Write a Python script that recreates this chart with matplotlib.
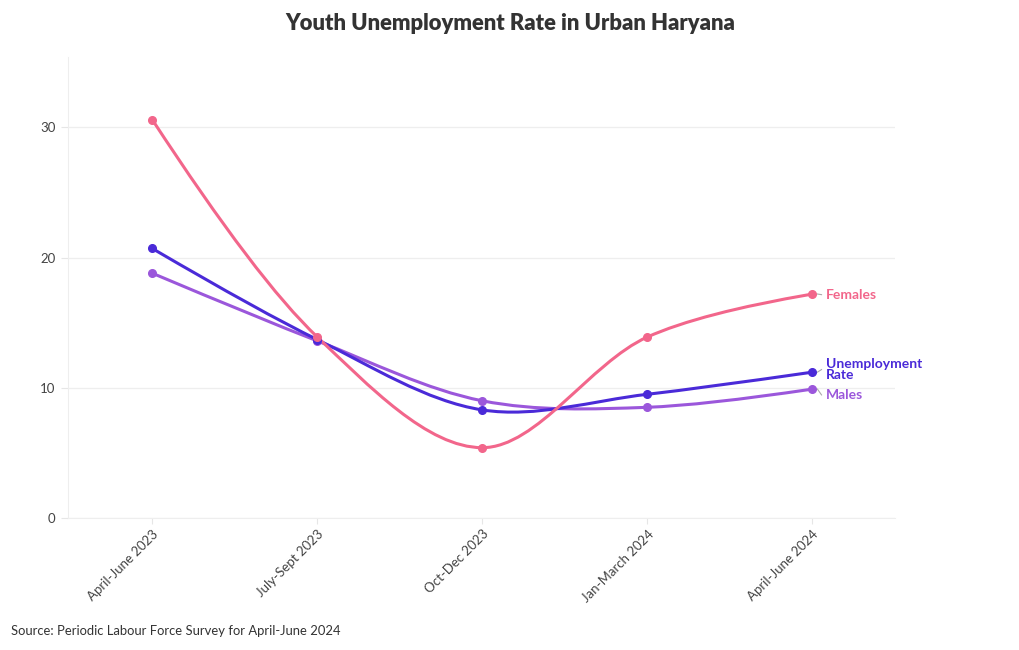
import numpy as np
import matplotlib.pyplot as plt
from matplotlib.path import Path
from matplotlib.patches import PathPatch

plt.rcParams['font.family'] = ['Lato', 'DejaVu Sans']

quarters = ['April-June 2023', 'July-Sept 2023', 'Oct-Dec 2023', 'Jan-March 2024', 'April-June 2024']
females = [30.6, 13.9, 5.4, 13.9, 17.2]
unemployment = [20.7, 13.7, 8.3, 9.5, 11.2]
males = [18.8, 13.6, 9.0, 8.5, 9.9]

series = [
    ('Males', males, '#9b57db'),
    ('Unemployment\nRate', unemployment, '#4a2ad8'),
    ('Females', females, '#f2668b'),
]

fig = plt.figure(figsize=(10.2, 6.5), dpi=100)
ax = fig.add_axes([68 / 1020, 1 - 518 / 650, (895 - 68) / 1020, (518 - 57) / 650])
ax.set_xlim(-0.51, 4.5)
ax.set_ylim(0, 35.4)

# pixel scale of the axes, used so the spline is built in screen space
sx = 165.0
sy = 13.03


def tangent(p0, p1, p2, smooth=1.0):
    d1 = p0 - p1
    d2 = p2 - p1
    d1a = np.hypot(*d1) ** 0.5
    d2a = np.hypot(*d2) ** 0.5
    num = (d2a ** 2 * d1 - d1a ** 2 * d2) * smooth
    den1 = 3 * d2a * (d1a + d2a)
    den2 = 3 * d1a * (d1a + d2a)
    return p1 + num / den1, p1 - num / den2


def spline_path(xs, ys):
    pts = np.column_stack([np.array(xs) * sx, np.array(ys) * sy])
    tans = [tangent(pts[i - 1], pts[i], pts[i + 1]) for i in range(1, len(pts) - 1)]
    verts = [pts[0]]
    codes = [Path.MOVETO]
    verts += [tans[0][0], pts[1]]
    codes += [Path.CURVE3] * 2
    for i in range(2, len(pts) - 1):
        verts += [tans[i - 2][1], tans[i - 1][0], pts[i]]
        codes += [Path.CURVE4] * 3
    verts += [tans[-1][1], pts[-1]]
    codes += [Path.CURVE3] * 2
    verts = np.array(verts) / [sx, sy]
    return Path(verts, codes)


x = np.arange(len(quarters))
label_y = {'Females': 17.15, 'Unemployment\nRate': 11.4, 'Males': 9.45}
for name, vals, col in series:
    ax.add_patch(PathPatch(spline_path(x, vals), facecolor='none', edgecolor=col, lw=2.2,
                           capstyle='round', zorder=3))
    ax.plot(x, vals, 'o', color=col, ms=5.5, zorder=4)
    ly = label_y[name]
    ax.plot([4.03, 4.055], [vals[-1], ly], color='#aaaaaa', lw=0.8)
    ax.text(4.08, ly, name, color=col, fontsize=10, fontweight='bold', va='center',
            ha='left', linespacing=0.85)

ax.set_yticks([0, 10, 20, 30])
ax.set_xticks(x)
ax.set_xticklabels(quarters, rotation=45, ha='right', rotation_mode='anchor', fontsize=9.5,
                   color='#444444')
ax.tick_params(axis='x', length=4, color='#e6e6e6', pad=3)
ax.tick_params(axis='y', length=5, color='#e6e6e6', labelsize=9.5, labelcolor='#444444', pad=4)
ax.grid(axis='y', color='#eeeeee', lw=0.9)
ax.set_axisbelow(True)
for s in ['top', 'right']:
    ax.spines[s].set_visible(False)
ax.spines['left'].set_color('#eeeeee')
ax.spines['bottom'].set_color('#eeeeee')

fig.text(0.5, 1 - 24 / 650, 'Youth Unemployment Rate in Urban Haryana', ha='center', va='center',
         fontsize=15.8, fontweight='heavy', color='#333333')
fig.text(11 / 1020, 1 - 631 / 650, 'Source: Periodic Labour Force Survey for April-June 2024',
         ha='left', va='center', fontsize=9.35, color='#333333')

fig.savefig('out.png', dpi=100)
